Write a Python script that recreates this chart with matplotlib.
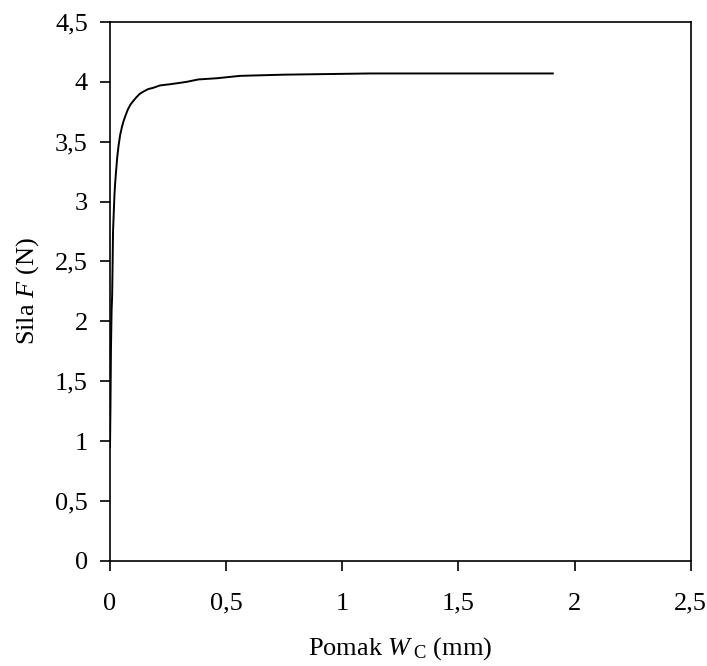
import matplotlib
matplotlib.use("Agg")
import matplotlib.pyplot as plt
from matplotlib.ticker import FuncFormatter

# ── Data ─────────────────────────────────────────────────────────────────────
pomak_mm = [0.000, 0.002, 0.004, 0.006, 0.007, 0.009, 0.011, 0.013, 0.016,
            0.019, 0.022, 0.026, 0.031, 0.037, 0.044, 0.051, 0.058, 0.067,
            0.077, 0.088, 0.100, 0.113, 0.128, 0.145, 0.165, 0.186, 0.215,
            0.258, 0.295, 0.330, 0.380, 0.460, 0.560, 0.750, 1.120, 1.906]
sila_n = [0.95, 1.30, 1.75, 2.00, 2.10, 2.20, 2.45, 2.75, 2.90,
          3.05, 3.15, 3.25, 3.37, 3.47, 3.56, 3.62, 3.67, 3.72,
          3.77, 3.81, 3.84, 3.87, 3.90, 3.92, 3.94, 3.95, 3.97,
          3.98, 3.99, 4.00, 4.02, 4.03, 4.05, 4.06, 4.07, 4.07]

x_ticks = [0, 0.5, 1, 1.5, 2, 2.5]
y_ticks = [0, 0.5, 1, 1.5, 2, 2.5, 3, 3.5, 4, 4.5]

plt.rcParams["font.family"] = ["Liberation Serif", "DejaVu Serif"]
plt.rcParams["mathtext.fontset"] = "custom"
plt.rcParams["mathtext.rm"] = "Liberation Serif"
plt.rcParams["mathtext.it"] = "Liberation Serif:italic"


def comma_fmt(v, _pos):
    # decimal comma, as in the original
    return f"{v:g}".replace(".", ",")


fig = plt.figure(figsize=(7.07, 6.66), dpi=100)
ax = fig.add_axes([0.1556, 0.158, 0.8214, 0.809])

ax.plot(pomak_mm, sila_n, color="black", linewidth=1.4)

ax.set_xlim(0, 2.5)
ax.set_ylim(0, 4.5)
ax.set_xticks(x_ticks)
ax.set_yticks(y_ticks)
ax.xaxis.set_major_formatter(FuncFormatter(comma_fmt))
ax.yaxis.set_major_formatter(FuncFormatter(comma_fmt))

ax.tick_params(direction="out", length=7, width=1.2, labelsize=19,
               top=False, right=False, color="black")
ax.tick_params(axis="x", pad=16)
ax.tick_params(axis="y", pad=9)
for sp in ax.spines.values():
    sp.set_linewidth(1.2)
    sp.set_color("black")

ax.set_xlabel(r"Pomak $W\,_{\mathrm{C}}$ (mm)", fontsize=19, labelpad=15)
ax.set_ylabel(r"Sila $F$ (N)", fontsize=19, labelpad=10)

fig.savefig("out.png", dpi=100, facecolor="white")
